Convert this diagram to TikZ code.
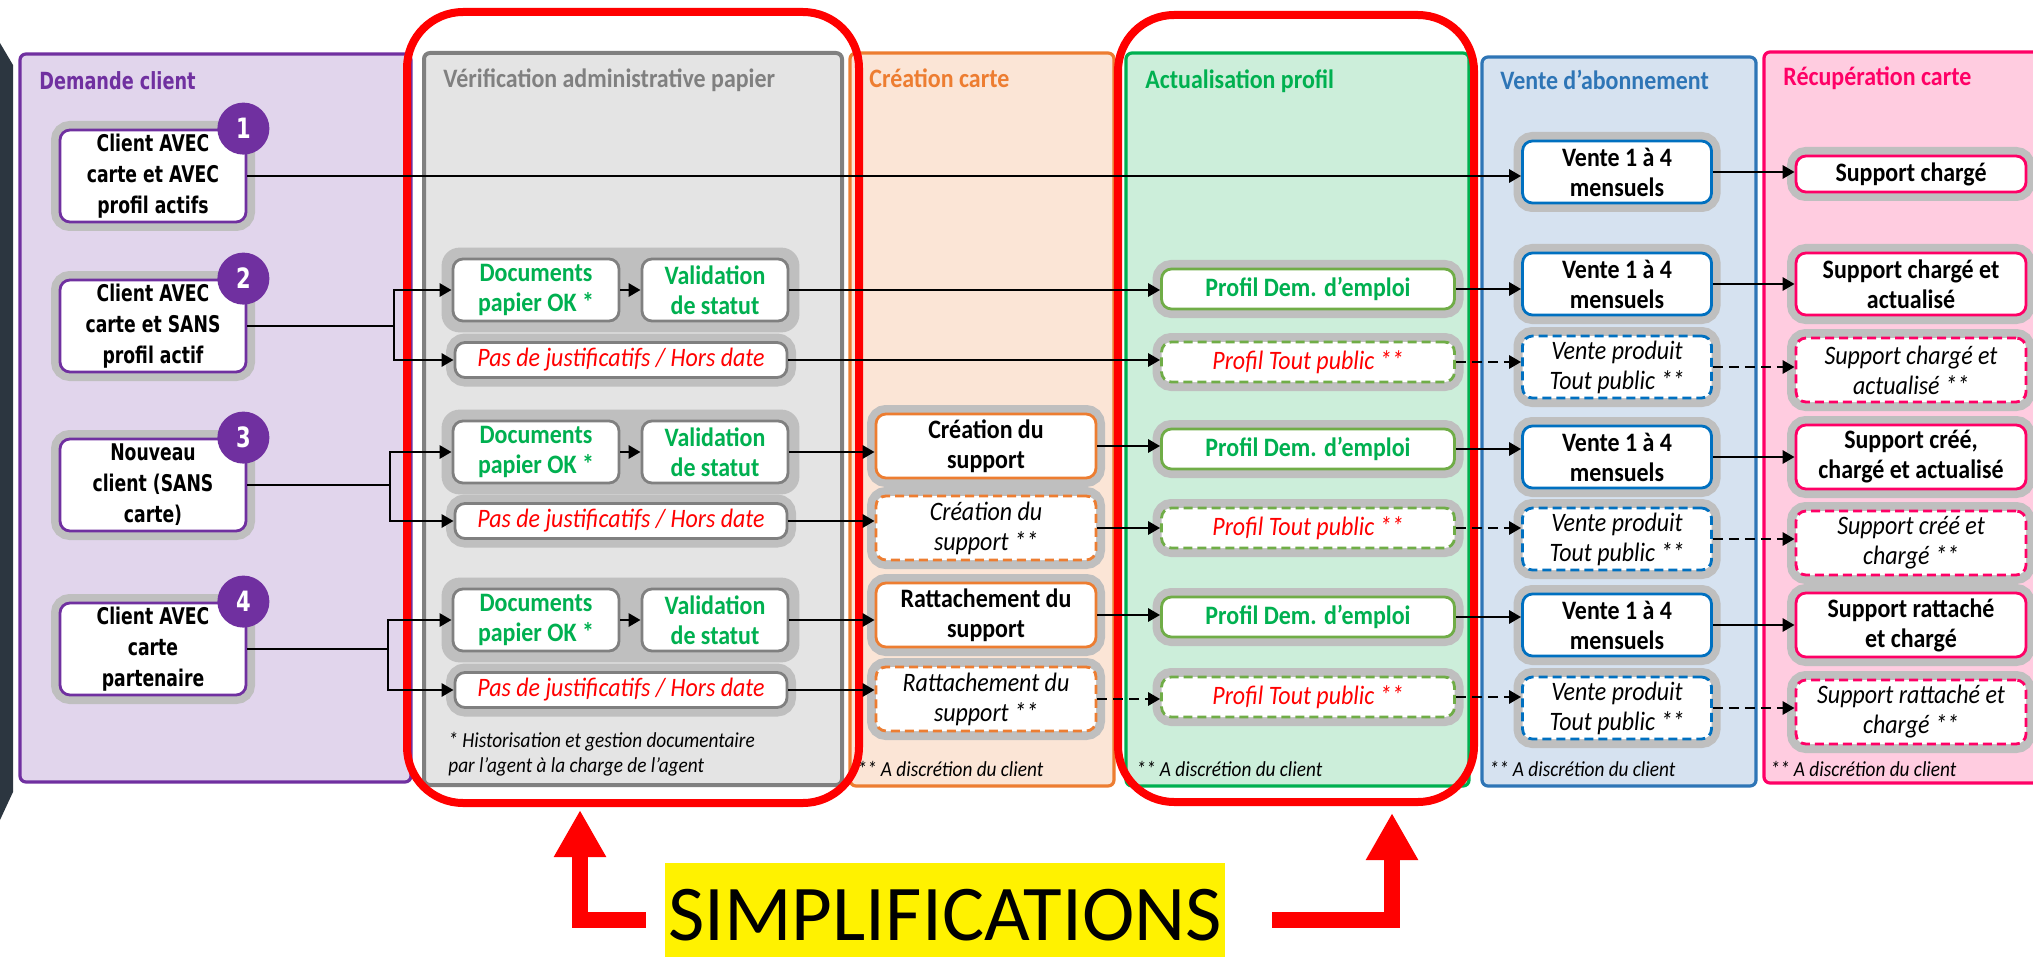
\documentclass[tikz,border=0pt]{standalone}
\usepackage{fontspec}
\setmainfont{Carlito}[FakeStretch=0.9]
\newfontfamily\capfont{Carlito}
\newfontfamily\verd[FakeStretch=0.75]{DejaVu Sans}
\definecolor{vpurple}{RGB}{112,48,160}
\definecolor{lpurple}{RGB}{225,213,236}
\definecolor{pgray}{RGB}{128,128,128}
\definecolor{lgray}{RGB}{228,228,228}
\definecolor{halogray}{RGB}{191,191,191}
\definecolor{corange}{RGB}{237,125,49}
\definecolor{lorange}{RGB}{251,229,214}
\definecolor{tgreen}{RGB}{0,176,80}
\definecolor{bgreen}{RGB}{112,173,71}
\definecolor{lgreen}{RGB}{204,238,218}
\definecolor{pblue}{RGB}{46,117,182}
\definecolor{vblue}{RGB}{0,112,192}
\definecolor{lblue}{RGB}{214,226,240}
\definecolor{cpink}{RGB}{255,0,102}
\definecolor{lpink}{RGB}{255,204,224}
\definecolor{darkslate}{RGB}{44,54,64}
\usetikzlibrary{arrows.meta,fit}
\pgfdeclarelayer{panels}
\pgfdeclarelayer{groups}
\pgfsetlayers{panels,groups,main}

\begin{document}
\begin{tikzpicture}[x=0.5pt,y=-0.5pt,
  panel/.style={line width=1.6pt,rounded corners=3pt},
  ptitle/.style={anchor=base west,inner sep=0,font=\fontsize{13.3}{15}\selectfont\bfseries},
  halo/.style={preaction={draw=halogray,line width=9pt,solid}},
  box/.style={halo,draw,fill=white,rounded corners=5pt,line width=1.4pt,align=center,inner sep=1pt,font=\fontsize{13.3}{15}\selectfont\bfseries},
  discr/.style={dash pattern=on 4.5pt off 2.5pt,font=\fontsize{13.3}{15}\selectfont\itshape},
  cbox/.style={box,draw=vpurple,minimum width=93pt,minimum height=46pt,font=\verd\fontsize{11.5}{15.5}\selectfont\bfseries},
  docbox/.style={box,draw=pgray,text=tgreen,minimum height=31pt},
  pasbox/.style={box,draw=pgray,text=red,minimum width=166pt,minimum height=17.5pt,font=\fontsize{13.3}{15}\selectfont\itshape},
  crbox/.style={box,draw=corange,minimum width=110pt,minimum height=32pt},
  prbox/.style={box,draw=bgreen,text=tgreen,minimum width=146.5pt,minimum height=20pt},
  vebox/.style={box,draw=vblue,minimum width=94.5pt,minimum height=31pt},
  spbox/.style={box,draw=cpink,minimum width=115pt,minimum height=32pt},
  badge/.style={circle,fill=vpurple,text=white,minimum size=26pt,inner sep=0,font=\verd\fontsize{14}{14}\selectfont\bfseries},
  grp/.style={fill=halogray,rounded corners=9pt,inner sep=5pt},
  arr/.style={-{Triangle[length=6pt,width=6.5pt]},line width=1.4pt},
  darr/.style={arr,dash pattern=on 5pt off 3pt},
  note/.style={anchor=west,inner sep=0,align=left,font=\fontsize{10.7}{12.5}\selectfont\itshape},
  hilite/.style={draw=red,line width=4pt,rounded corners=28pt},
  pointer/.style={draw=red,line width=8pt,-{Triangle[length=23.5pt,width=24.5pt]}}]
  \useasboundingbox (0,0) rectangle (2033,957);
  \clip (0,0) rectangle (2033,957);

  % columns
  \begin{pgfonlayer}{panels}
    \clip (0,0) rectangle (2033,957);
    \draw[panel,draw=vpurple,fill=lpurple] (20,54) rectangle (411,782);
    \draw[panel,draw=pgray,fill=lgray,line width=2pt] (424,53) rectangle (842,785);
    \draw[panel,draw=corange,fill=lorange] (850,53) rectangle (1114,786);
    \draw[panel,draw=tgreen,fill=lgreen] (1126,53) rectangle (1469,786);
    \draw[panel,draw=pblue,fill=lblue] (1482,57) rectangle (1756,786);
    \draw[panel,draw=cpink,fill=lpink] (1764,52) rectangle (2070,783);
  \end{pgfonlayer}
  \fill[darkslate] (0,43) -- (13,65) -- (13,792) -- (0,820) -- cycle;

  \node[ptitle,text=vpurple,font=\verd\fontsize{11.8}{14}\selectfont\bfseries] (tdem) at (39,90) {Demande client};
  \node[ptitle,text=pgray] (tver) at (443,88) {Vérification administrative papier};
  \node[ptitle,text=corange] (tcre) at (869,88) {Création carte};
  \node[ptitle,text=tgreen] (tact) at (1145,89) {Actualisation profil};
  \node[ptitle,text=pblue] (tven) at (1500,90) {Vente d’abonnement};
  \node[ptitle,text=cpink] (trec) at (1783,86) {Récupération carte};

  % simplified steps
  \draw[hilite] (407,12) rectangle (859,803);
  \draw[hilite] (1118,15) rectangle (1474,802);

  % client requests
  \node[cbox] (c1) at (153,176) {Client AVEC\\carte et AVEC\\profil actifs};
  \node[cbox] (c2) at (153,326) {Client AVEC\\carte et SANS\\profil actif};
  \node[cbox] (c3) at (153,485) {Nouveau\\client (SANS\\carte)};
  \node[cbox] (c4) at (153,649) {Client AVEC\\carte\\partenaire};
  \node[badge] (n1) at ([xshift=-2pt]c1.north east) {1};
  \node[badge] (n2) at ([xshift=-2pt]c2.north east) {2};
  \node[badge] (n3) at ([xshift=-2pt]c3.north east) {3};
  \node[badge] (n4) at ([xshift=-2pt]c4.north east) {4};
  \coordinate (b2) at (394,326);
  \coordinate (b3) at (390,485);
  \coordinate (b4) at (388,649);

  % paper check
  \node[docbox,minimum width=83pt] (d2) at (536,290) {Documents\\papier OK *};
  \node[docbox,minimum width=73pt] (v2) at (715,290) {Validation\\de statut};
  \node[pasbox] (p2) at (621,360) {Pas de justificatifs / Hors date};
  \node[docbox,minimum width=83pt] (d3) at (536,452) {Documents\\papier OK *};
  \node[docbox,minimum width=73pt] (v3) at (715,452) {Validation\\de statut};
  \node[pasbox] (p3) at (621,521) {Pas de justificatifs / Hors date};
  \node[docbox,minimum width=83pt] (d4) at (536,620) {Documents\\papier OK *};
  \node[docbox,minimum width=73pt] (v4) at (715,620) {Validation\\de statut};
  \node[pasbox] (p4) at (621,690) {Pas de justificatifs / Hors date};
  \begin{pgfonlayer}{groups}
    \node[grp,fit=(d2)(v2)] (g2) {};
    \node[grp,fit=(d3)(v3)] (g3) {};
    \node[grp,fit=(d4)(v4)] (g4) {};
  \end{pgfonlayer}
  \node[note] (f1) at (448,754) {* Historisation et gestion documentaire\\par l’agent à la charge de l’agent};

  % card
  \node[crbox] (cr3) at (986,446) {Création du\\support};
  \node[crbox,discr] (cr3b) at (986,528) {Création du\\support **};
  \node[crbox] (ra4) at (986,615) {Rattachement du\\support};
  \node[crbox,discr] (ra4b) at (986,699) {Rattachement du\\support **};
  \node[note] (f2) at (857,769) {** A discrétion du client};

  % profile
  \node[prbox] (pd2) at (1308,289) {Profil Dem. d’emploi};
  \node[prbox,discr,text=red] (tp2) at (1308,362) {Profil Tout public **};
  \node[prbox] (pd3) at (1308,449) {Profil Dem. d’emploi};
  \node[prbox,discr,text=red] (tp3) at (1308,528) {Profil Tout public **};
  \node[prbox] (pd4) at (1308,617) {Profil Dem. d’emploi};
  \node[prbox,discr,text=red] (tp4) at (1308,697) {Profil Tout public **};
  \node[note] (f3) at (1136,769) {** A discrétion du client};

  % subscription
  \node[vebox] (ve1) at (1617,172) {Vente 1 à 4\\mensuels};
  \node[vebox] (ve2) at (1617,284) {Vente 1 à 4\\mensuels};
  \node[vebox,discr] (vp2) at (1617,367) {Vente produit\\Tout public **};
  \node[vebox] (ve3) at (1617,457) {Vente 1 à 4\\mensuels};
  \node[vebox,discr] (vp3) at (1617,539) {Vente produit\\Tout public **};
  \node[vebox] (ve4) at (1617,625) {Vente 1 à 4\\mensuels};
  \node[vebox,discr] (vp4) at (1617,708) {Vente produit\\Tout public **};
  \node[note] (f4) at (1489,769) {** A discrétion du client};

  % pick-up
  \node[spbox,minimum height=18pt] (s1) at (1911,174) {Support chargé};
  \node[spbox,minimum height=31pt] (s2) at (1911,284) {Support chargé et\\actualisé};
  \node[spbox,discr] (ss2) at (1911,370) {Support chargé et\\actualisé **};
  \node[spbox] (s3) at (1911,457) {Support créé,\\chargé et actualisé};
  \node[spbox,discr] (ss3) at (1911,543) {Support créé et\\chargé **};
  \node[spbox] (s4) at (1911,625) {Support rattaché\\et chargé};
  \node[spbox,discr] (ss4) at (1911,712) {Support rattaché et\\chargé **};
  \node[note] (f5) at (1770,769) {** A discrétion du client};

  % flows
  \draw[arr] (c1) -- (c1 -| ve1.west);
  \draw[arr] (ve1) -- (ve1 -| s1.west);

  \draw[arr] (c2) -- (b2) |- (d2);
  \draw[arr] (b2) |- (p2);
  \draw[arr] (d2) -- (v2);
  \draw[arr] (v2) -- (v2 -| pd2.west);
  \draw[arr] (p2) -- (p2 -| tp2.west);
  \draw[arr] (pd2) -- (pd2 -| ve2.west);
  \draw[darr] (tp2) -- (tp2 -| vp2.west);
  \draw[arr] (ve2) -- (ve2 -| s2.west);
  \draw[darr] (vp2) -- (vp2 -| ss2.west);

  \draw[arr] (c3) -- (b3) |- (d3);
  \draw[arr] (b3) |- (p3);
  \draw[arr] (d3) -- (v3);
  \draw[arr] (v3) -- (v3 -| cr3.west);
  \draw[arr] (p3) -- (p3 -| cr3b.west);
  \draw[arr] (cr3) -- (cr3 -| pd3.west);
  \draw[arr] (cr3b) -- (cr3b -| tp3.west);
  \draw[arr] (pd3) -- (pd3 -| ve3.west);
  \draw[darr] (tp3) -- (tp3 -| vp3.west);
  \draw[arr] (ve3) -- (ve3 -| s3.west);
  \draw[darr] (vp3) -- (vp3 -| ss3.west);

  \draw[arr] (c4) -- (b4) |- (d4);
  \draw[arr] (b4) |- (p4);
  \draw[arr] (d4) -- (v4);
  \draw[arr] (v4) -- (v4 -| ra4.west);
  \draw[arr] (p4) -- (p4 -| ra4b.west);
  \draw[arr] (ra4) -- (ra4 -| pd4.west);
  \draw[darr] (ra4b) -- (ra4b -| tp4.west);
  \draw[arr] (pd4) -- (pd4 -| ve4.west);
  \draw[darr] (tp4) -- (tp4 -| vp4.west);
  \draw[arr] (ve4) -- (ve4 -| s4.west);
  \draw[darr] (vp4) -- (vp4 -| ss4.west);

  % caption
  \node[fill=yellow,minimum width=280pt,minimum height=52pt,inner sep=0,font=\capfont\fontsize{39.5}{40}\selectfont] (simp) at (945,915) {SIMPLIFICATIONS};
  \coordinate (t1) at (580,810);
  \coordinate (t2) at (1392,813);
  \draw[pointer] ([xshift=-9.5pt,yshift=-2.5pt]simp.west) -| (t1);
  \draw[pointer] ([xshift=23.5pt,yshift=-2.5pt]simp.east) -| (t2);
\end{tikzpicture}
\end{document}
